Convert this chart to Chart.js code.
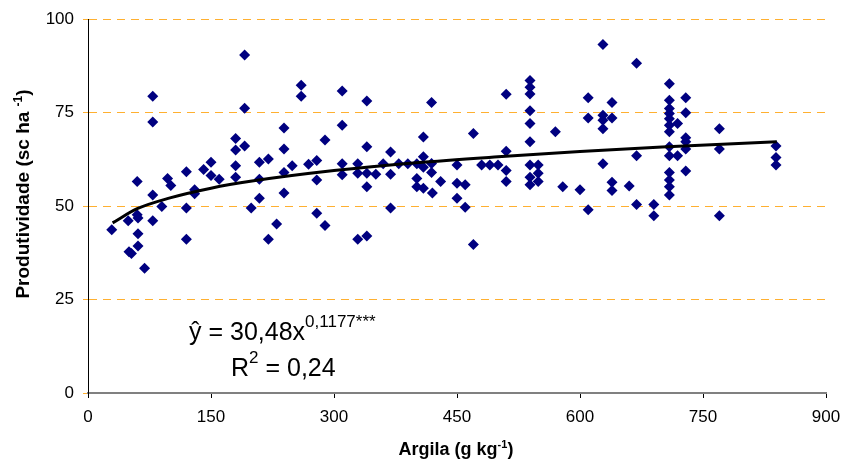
<!DOCTYPE html>
<html>
<head>
<meta charset="utf-8">
<script src="https://cdn.jsdelivr.net/npm/chart.js@4.4.1/dist/chart.umd.min.js"></script>
<style>
  html, body { margin: 0; padding: 0; background: #fff; overflow: hidden; }
  canvas { display: block; }
</style>
</head>
<body>
<canvas id="myChart" width="842" height="469"></canvas>
<script>
// dados: argila (g kg-1) x produtividade (sc ha-1)
const argila = [
  29, 49, 50, 53, 60, 60, 61, 61, 61, 69,
  79, 79, 79, 79, 90, 97, 101, 120, 120, 120,
  130, 130, 141, 150, 150, 160, 180, 180, 180, 180,
  191, 191, 191, 199, 209, 209, 209, 220, 220, 230,
  239, 239, 239, 239, 249, 260, 260, 269, 279, 279,
  279, 289, 289, 310, 310, 310, 310, 329, 329, 329,
  340, 340, 340, 340, 340, 351, 360, 369, 369, 369,
  379, 390, 401, 401, 401, 409, 409, 409, 409, 419,
  419, 419, 420, 430, 450, 450, 450, 460, 460, 470,
  470, 480, 490, 500, 510, 510, 510, 510, 539, 539,
  539, 539, 539, 539, 539, 539, 539, 549, 549, 549,
  570, 579, 600, 610, 610, 610, 628, 628, 628, 628,
  628, 639, 639, 639, 639, 660, 669, 669, 669, 690,
  690, 709, 709, 709, 709, 709, 709, 709, 709, 709,
  709, 709, 709, 709, 719, 719, 729, 729, 729, 729,
  729, 729, 770, 770, 770, 839, 839, 839
];
const produtividade = [
  43.7, 46.1, 37.8, 37.3, 56.6, 47.7, 46.8, 42.6, 39.3, 33.4,
  79.4, 72.5, 53.0, 46.1, 49.9, 57.4, 55.5, 59.2, 49.5, 41.1,
  54.4, 53.3, 59.8, 61.7, 58.2, 57.2, 68.1, 65.0, 60.8, 57.7,
  90.4, 76.2, 66.1, 49.5, 61.7, 57.2, 52.1, 62.6, 41.1, 45.2,
  70.9, 65.3, 59.0, 53.5, 60.8, 82.3, 79.4, 61.2, 62.2, 57.0,
  48.1, 67.7, 44.8, 80.8, 71.6, 61.3, 58.4, 61.3, 58.8, 41.1,
  78.1, 65.9, 58.8, 55.2, 42.0, 58.5, 61.3, 64.5, 58.5, 49.5,
  61.3, 61.3, 61.3, 57.4, 55.2, 68.5, 63.2, 60.4, 54.8, 77.7,
  61.4, 59.0, 53.5, 56.6, 61.0, 56.1, 52.1, 55.7, 49.7, 69.4,
  39.7, 61.0, 61.0, 61.0, 79.9, 64.7, 59.5, 56.6, 83.6, 81.8,
  80.0, 75.5, 72.1, 67.2, 61.0, 57.7, 55.7, 61.0, 58.8, 56.6,
  69.9, 55.2, 54.4, 79.0, 73.6, 49.0, 93.2, 74.3, 73.0, 70.7,
  61.3, 77.7, 73.6, 56.4, 54.2, 55.4, 88.2, 63.5, 50.4, 50.4,
  47.4, 82.7, 78.3, 76.1, 74.8, 73.4, 71.6, 69.9, 65.9, 63.5,
  59.0, 57.0, 55.2, 53.0, 72.1, 63.5, 79.0, 75.0, 68.3, 67.2,
  65.3, 59.4, 70.7, 65.3, 47.4, 66.1, 63.0, 61.0
];

const curvaX = [30, 60, 100, 150, 200, 300, 400, 500, 600, 700, 840];
const curvaY = [45.5, 49.3, 52.2, 54.8, 56.7, 59.5, 61.6, 63.2, 64.6, 65.8, 67.2];

const ticksY = [0, 25, 50, 75, 100];
const ticksX = [0, 150, 300, 450, 600, 750, 900];

const pontos = argila.map((x, i) => ({ x: x, y: produtividade[i] }));
const curva = curvaX.map((x, i) => ({ x: x, y: curvaY[i] }));

const fonte = '"Liberation Sans", Arial, sans-serif';

// escreve texto com expoente, centrado ou a partir da esquerda
function textoSup(ctx, partes, x, y, centro) {
  let total = 0;
  partes.forEach(p => { ctx.font = p.font; total += ctx.measureText(p.t).width; });
  let cx = centro ? x - total / 2 : x;
  partes.forEach(p => {
    ctx.font = p.font;
    ctx.fillText(p.t, cx, y - (p.up || 0));
    cx += ctx.measureText(p.t).width;
  });
}

const textos = {
  id: 'textos',
  afterDraw(chart) {
    const ctx = chart.ctx;
    ctx.save();
    ctx.fillStyle = '#000';
    ctx.textAlign = 'left';
    ctx.textBaseline = 'alphabetic';

    // equação e R2
    textoSup(ctx, [
      { t: 'ŷ = 30,48x', font: '25px ' + fonte },
      { t: '0,1177***', font: '17px ' + fonte, up: 13 }
    ], 189, 340, false);
    textoSup(ctx, [
      { t: 'R', font: '25px ' + fonte },
      { t: '2', font: '17px ' + fonte, up: 13 },
      { t: ' = 0,24', font: '25px ' + fonte }
    ], 231, 376, false);

    // título eixo x
    textoSup(ctx, [
      { t: 'Argila (g kg', font: 'bold 18px ' + fonte },
      { t: '-1', font: 'bold 11px ' + fonte, up: 7 },
      { t: ')', font: 'bold 18px ' + fonte }
    ], 456, 455, true);

    // título eixo y
    ctx.translate(29, 194);
    ctx.rotate(-Math.PI / 2);
    textoSup(ctx, [
      { t: 'Produtividade (sc ha ', font: 'bold 19px ' + fonte },
      { t: '-1', font: 'bold 12px ' + fonte, up: 7 },
      { t: ')', font: 'bold 19px ' + fonte }
    ], 0, 0, true);
    ctx.restore();
  }
};

const ctx = document.getElementById('myChart');

const myChart = new Chart(ctx, {
  type: 'scatter',
  data: {
    datasets: [
      {
        // linha de tendência (desenhada por cima)
        type: 'line',
        data: curva,
        borderColor: '#000',
        borderWidth: 3,
        pointRadius: 0,
        fill: false,
        cubicInterpolationMode: 'monotone'
      },
      {
        data: pontos,
        pointStyle: 'rectRot',
        pointRadius: 5.5,
        pointBackgroundColor: '#000080',
        pointBorderColor: '#000080',
        pointBorderWidth: 0
      }
    ]
  },
  options: {
    responsive: false,
    animation: false,
    devicePixelRatio: 1,
    layout: { padding: { top: 17, right: 0, left: 0, bottom: 0 } },
    plugins: {
      legend: { display: false },
      tooltip: { enabled: false }
    },
    scales: {
      x: {
        type: 'linear',
        min: 0,
        max: 900,
        afterBuildTicks: s => { s.ticks = ticksX.map(v => ({ value: v })); },
        afterFit: s => { s.height = 76; s.paddingRight = 16; s.paddingLeft = 0; },
        grid: { drawOnChartArea: false, tickLength: 5, tickColor: '#000', tickWidth: 1 },
        border: { color: '#808080', width: 2 },
        ticks: { color: '#000', font: { family: fonte, size: 17 }, padding: 9, maxRotation: 0 }
      },
      y: {
        min: 0,
        max: 100,
        afterBuildTicks: s => { s.ticks = ticksY.map(v => ({ value: v })); },
        afterFit: s => { s.width = 88; },
        grid: { color: '#FFB030', lineWidth: 1, tickLength: 5 },
        border: { color: '#000', width: 1, dash: [8, 6] },
        ticks: { color: '#000', font: { family: fonte, size: 17 }, padding: 9 }
      }
    }
  },
  plugins: [textos]
});
</script>
</body>
</html>
